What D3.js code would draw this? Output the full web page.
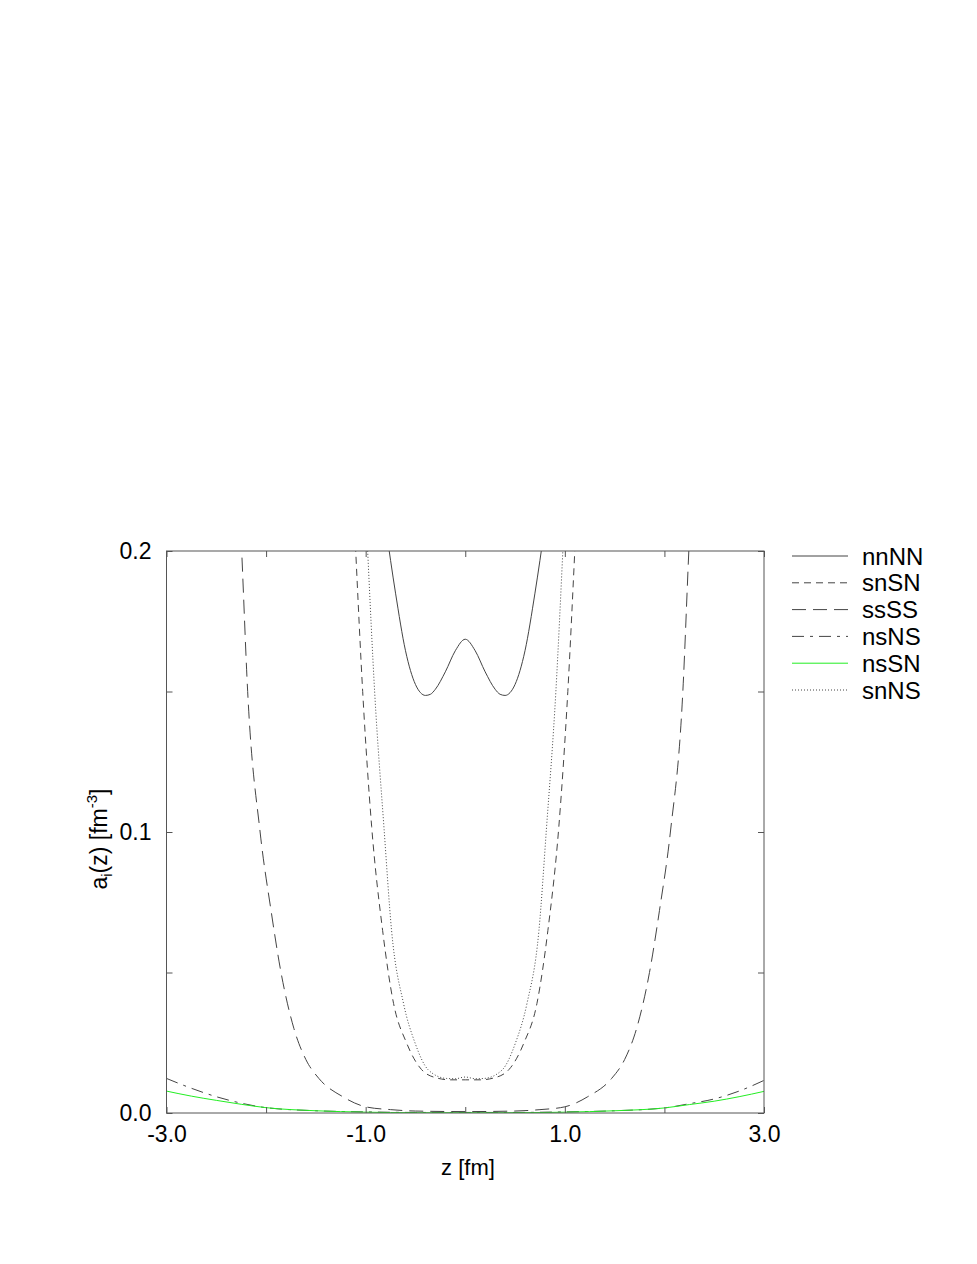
<!DOCTYPE html>
<html>
<head>
<meta charset="utf-8">
<script src="https://cdn.jsdelivr.net/npm/d3@7"></script>
<style>
  body { margin: 0; background: #fff; }
  text { font-family: "Liberation Sans", Arial, sans-serif; fill: #000; }
</style>
</head>
<body>
<div id="chart"></div>
<script>
// tick values
const xTicks = [-3, -2, -1, 0, 1, 2, 3];
const xLabels = ["-3.0", "", "-1.0", "", "1.0", "", "3.0"];
const yTicks = [0, 0.05, 0.1, 0.15, 0.2];
const yLabels = ["0.0", "", "0.1", "", "0.2"];

// series (z in fm, a in fm^-3)
const zNnNN = [-0.80, -0.70, -0.60, -0.50, -0.45, -0.40, -0.35, -0.30, -0.20, -0.10, 0.00, 0.10, 0.20, 0.30, 0.35, 0.40, 0.45, 0.50, 0.60, 0.70, 0.80];
const nnNN  = [0.209, 0.185, 0.1645, 0.1525, 0.1496, 0.1486, 0.1490, 0.1508, 0.1570, 0.1645, 0.1686, 0.1645, 0.1570, 0.1508, 0.1490, 0.1486, 0.1496, 0.1525, 0.1645, 0.185, 0.209];

const zSnSN = [-1.12, -1.10, -1.03, -0.94, -0.83, -0.72, -0.59, -0.44, -0.29, -0.15, 0.00, 0.15, 0.29, 0.44, 0.59, 0.72, 0.83, 0.94, 1.03, 1.10, 1.12];
const snSN  = [0.215, 0.200, 0.150, 0.102, 0.065, 0.039, 0.025, 0.0155, 0.0125, 0.0118, 0.0118, 0.0118, 0.0125, 0.0155, 0.025, 0.039, 0.065, 0.102, 0.150, 0.200, 0.215];

const zSsSS = [-2.27, -2.245, -2.185, -2.06, -1.95, -1.85, -1.72, -1.60, -1.47, -1.23, -1.00, -0.75, -0.50, 0.00, 0.50, 0.75, 1.00, 1.23, 1.47, 1.60, 1.72, 1.85, 1.95, 2.06, 2.185, 2.245, 2.27];
const ssSS  = [0.220, 0.200, 0.150, 0.100, 0.072, 0.050, 0.030, 0.019, 0.0123, 0.0058, 0.0022, 0.0012, 0.0007, 0.0005, 0.0007, 0.0012, 0.0022, 0.0058, 0.0123, 0.019, 0.030, 0.050, 0.072, 0.100, 0.150, 0.200, 0.220];

const zWide = [-3.0, -2.75, -2.5, -2.25, -2.0, -1.5, -1.0, -0.5, 0.0, 0.5, 1.0, 1.5, 2.0, 2.25, 2.5, 2.75, 3.0];
const nsNS  = [0.0123, 0.0088, 0.0058, 0.0035, 0.0019, 0.0008, 0.0004, 0.0002, 0.0002, 0.0002, 0.0004, 0.0008, 0.0018, 0.0033, 0.0050, 0.0078, 0.0116];
const nsSN  = [0.0078, 0.0060, 0.0045, 0.0031, 0.0019, 0.0008, 0.0003, 0.0001, 0.0001, 0.0001, 0.0003, 0.0008, 0.0018, 0.0030, 0.0042, 0.0058, 0.0077];

const zSnNS = [-1.00, -0.98, -0.91, -0.815, -0.74, -0.62, -0.505, -0.37, -0.19, -0.10, 0.00, 0.10, 0.19, 0.37, 0.505, 0.62, 0.74, 0.815, 0.91, 0.98, 1.00];
const snNS  = [0.215, 0.200, 0.150, 0.101, 0.065, 0.039, 0.025, 0.0153, 0.0123, 0.0122, 0.0128, 0.0122, 0.0123, 0.0153, 0.025, 0.039, 0.065, 0.101, 0.150, 0.200, 0.215];

const names  = ["nnNN", "snSN", "ssSS", "nsNS", "nsSN", "snNS"];
const zs     = [zNnNN, zSnSN, zSsSS, zWide, zWide, zSnNS];
const values = [nnNN, snSN, ssSS, nsNS, nsSN, snNS];
const colors = ["#444", "#444", "#444", "#444", "#22ee22", "#444"];
const dashes = [null, "7,5", "14,7", "12,6,3,6", null, "1,2"];

const W = 977, H = 1264;
const pLeft = 166.5, pRight = 764, pTop = 551, pBottom = 1113;

const svg = d3.select("#chart").append("svg")
  .attr("width", W).attr("height", H)
  .style("background", "#fff");

const x = d3.scaleLinear().domain([-3, 3]).range([pLeft, pRight]);
const y = d3.scaleLinear().domain([0, 0.2]).range([pBottom, pTop]);

svg.append("clipPath").attr("id", "clip")
  .append("rect")
  .attr("x", pLeft).attr("y", pTop)
  .attr("width", pRight - pLeft).attr("height", pBottom - pTop);

const line = d3.line().curve(d3.curveMonotoneX);

const series = names.map((n, i) => ({
  name: n,
  pts: zs[i].map((z, j) => [x(z), y(values[i][j])]),
  color: colors[i],
  dash: dashes[i]
}));

svg.append("g").attr("clip-path", "url(#clip)")
  .selectAll("path")
  .data(series)
  .enter().append("path")
  .attr("d", d => line(d.pts))
  .attr("fill", "none")
  .attr("stroke", d => d.color)
  .attr("stroke-width", 1)
  .attr("stroke-dasharray", d => d.dash);

// axes: ticks inward on all four sides
const tickFont = 23;

const xAxis = d3.axisBottom(x).tickValues(xTicks).tickSize(-6).tickPadding(12.5)
  .tickFormat((d, i) => xLabels[i]);
const yAxis = d3.axisLeft(y).tickValues(yTicks).tickSize(-6).tickPadding(15)
  .tickFormat((d, i) => yLabels[i]);

svg.append("g").attr("transform", `translate(0,${pBottom})`).call(xAxis);
svg.append("g").attr("transform", `translate(${pLeft},0)`).call(yAxis);
svg.append("g").attr("transform", `translate(0,${pTop})`)
  .call(d3.axisTop(x).tickValues(xTicks).tickSize(-6).tickFormat(""));
svg.append("g").attr("transform", `translate(${pRight},0)`)
  .call(d3.axisRight(y).tickValues(yTicks).tickSize(-6).tickFormat(""));

svg.selectAll(".domain").remove();
svg.selectAll(".tick line").attr("stroke", "#555");
svg.selectAll(".tick text")
  .style("font-family", "Liberation Sans, Arial, sans-serif")
  .style("font-size", tickFont + "px")
  .attr("fill", "#000");

svg.append("rect")
  .attr("x", pLeft).attr("y", pTop)
  .attr("width", pRight - pLeft).attr("height", pBottom - pTop)
  .attr("fill", "none").attr("stroke", "#555").attr("stroke-width", 1);

// axis titles
svg.append("text")
  .attr("x", 468).attr("y", 1175)
  .attr("text-anchor", "middle")
  .style("font-size", "22px")
  .text("z [fm]");

const yt = svg.append("text")
  .attr("transform", `translate(107,839) rotate(-90)`)
  .attr("text-anchor", "middle")
  .style("font-size", "23px");
yt.append("tspan").text("a");
yt.append("tspan").attr("dy", 5).style("font-size", "15px").text("i");
yt.append("tspan").attr("dy", -5).text("(z) [fm");
yt.append("tspan").attr("dy", -10).style("font-size", "15px").text("-3");
yt.append("tspan").attr("dy", 10).text("]");

// legend
const lg = svg.append("g").selectAll("g")
  .data(series)
  .enter().append("g")
  .attr("transform", (d, i) => `translate(0,${556 + i * 26.8})`);

lg.append("line")
  .attr("x1", 792).attr("x2", 848)
  .attr("y1", 0).attr("y2", 0)
  .attr("stroke", d => d.color)
  .attr("stroke-width", 1)
  .attr("stroke-dasharray", d => d.dash);

lg.append("text")
  .attr("x", 862).attr("y", 8.5)
  .style("font-size", "24px")
  .text(d => d.name);
</script>
</body>
</html>
